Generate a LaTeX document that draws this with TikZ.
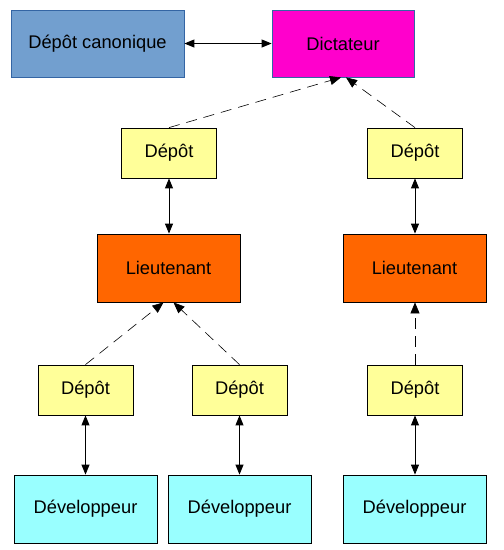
\documentclass[tikz,border=0pt]{standalone}
\usepackage{fontspec}
\setmainfont{Liberation Sans}
\usetikzlibrary{arrows.meta}
\definecolor{cblue}{HTML}{729FCF}
\definecolor{cblueb}{HTML}{3465A4}
\definecolor{cmag}{HTML}{FF00CC}
\definecolor{cyel}{HTML}{FFFF99}
\definecolor{corange}{HTML}{FF6600}
\definecolor{ccyan}{HTML}{99FFFF}
\tikzset{
  box/.style={draw=black, line width=0.8pt, inner sep=0pt, font=\fontsize{18.3}{21}\selectfont},
  depot/.style={box, fill=cyel, minimum width=95pt, minimum height=50pt},
  lieut/.style={box, fill=corange, minimum width=143pt, minimum height=68pt},
  dev/.style={box, fill=ccyan, minimum width=143pt, minimum height=68pt},
  biarrow/.style={line width=0.9pt, {Triangle[length=10pt,width=8pt]}-{Triangle[length=10pt,width=8pt]}},
  dasharrow/.style={line width=0.6pt, draw=black, dash pattern=on 11pt off 7pt, -{Triangle[length=11pt,width=9pt]}},
}
\begin{document}
\begin{tikzpicture}[x=1pt,y=1pt]
\useasboundingbox (0,0) rectangle (504,-550);
\node[box, draw=cblueb, fill=cblue, minimum width=173pt, minimum height=67pt] (canon) at (97.5,-43.5) {Dépôt canonique};
\node[box, draw=cblueb, fill=cmag, minimum width=142pt, minimum height=67pt] (dict) at (343,-43.5) {Dictateur};
\node[depot] (d1) at (169,-153) {Dépôt};
\node[depot] (d2) at (415,-153) {Dépôt};
\node[lieut] (lt1) at (168.5,-268) {Lieutenant};
\node[lieut] (lt2) at (414.5,-268) {Lieutenant};
\node[depot] (d3) at (85.5,-390) {Dépôt};
\node[depot] (d4) at (239.5,-390) {Dépôt};
\node[depot] (d5) at (415,-390) {Dépôt};
\node[dev] (dev1) at (85.5,-509) {Développeur};
\node[dev] (dev2) at (239.5,-509) {Développeur};
\node[dev] (dev3) at (414.5,-509) {Développeur};

\draw[biarrow] (canon.east) -- (dict.west);
\draw[dasharrow] (d1.north) -- ([xshift=-2pt]dict.south);
\draw[dasharrow] (d2.north) -- ([xshift=3pt]dict.south);
\draw[biarrow] (d1.south) -- (d1.south |- lt1.north);
\draw[biarrow] (d2.south) -- (d2.south |- lt2.north);
\draw[dasharrow] (d3.north) -- ([xshift=-5pt]lt1.south);
\draw[dasharrow] (d4.north) -- ([xshift=5pt]lt1.south);
\draw[dasharrow] (d5.north) -- (d5.north |- lt2.south);
\draw[biarrow] (d3.south) -- (d3.south |- dev1.north);
\draw[biarrow] (d4.south) -- (d4.south |- dev2.north);
\draw[biarrow] (d5.south) -- (d5.south |- dev3.north);
\end{tikzpicture}
\end{document}
